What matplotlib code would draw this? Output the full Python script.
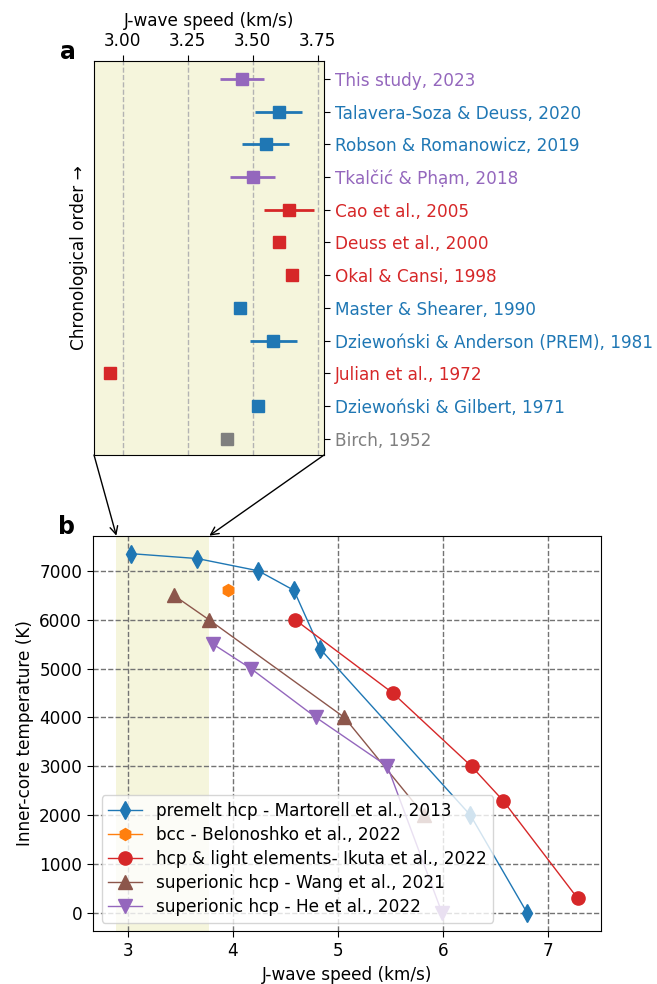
import matplotlib

matplotlib.use("Agg")
import matplotlib.pyplot as plt
from matplotlib.patches import ConnectionPatch

# --- panel a: published J-wave speed estimates (top row = most recent) ---
studies = [
    "This study, 2023",
    "Talavera-Soza & Deuss, 2020",
    "Robson & Romanowicz, 2019",
    "Tkalčić & Phạm, 2018",
    "Cao et al., 2005",
    "Deuss et al., 2000",
    "Okal & Cansi, 1998",
    "Master & Shearer, 1990",
    "Dziewoński & Anderson (PREM), 1981",
    "Julian et al., 1972",
    "Dziewoński & Gilbert, 1971",
    "Birch, 1952",
]
study_speed = [3.46, 3.60, 3.55, 3.50, 3.64, 3.60, 3.65, 3.45, 3.58, 2.95, 3.52, 3.40]
study_err = [0.085, 0.09, 0.09, 0.085, 0.095, 0, 0, 0, 0.09, 0, 0, 0]
study_group = ["purple", "blue", "blue", "purple", "red", "red", "red",
               "blue", "blue", "red", "blue", "gray"]
a_xticks = [3.00, 3.25, 3.50, 3.75]

# --- panel b: mineral physics predictions ---
mart_v = [3.03, 3.66, 4.24, 4.58, 4.83, 6.26, 6.80]
mart_t = [7350, 7250, 7000, 6600, 5400, 2000, 0]
belo_v = [3.95]
belo_t = [6600]
ikuta_v = [4.59, 5.52, 6.27, 6.57, 7.28]
ikuta_t = [6000, 4500, 3000, 2300, 300]
wang_v = [3.435, 3.77, 5.06, 5.82]
wang_t = [6500, 6000, 4000, 2000]
he_v = [3.81, 4.17, 4.79, 5.47, 5.99]
he_t = [5500, 5000, 4000, 3000, 0]

shade = (2.89, 3.775)

group_color = {"purple": "tab:purple", "blue": "tab:blue",
               "red": "tab:red", "gray": "tab:gray"}


def main() -> None:
    plt.rcParams.update({
        "font.size": 12.15,
        "xtick.major.size": 4, "ytick.major.size": 4,
        "xtick.major.pad": 4, "ytick.major.pad": 4,
    })
    fig = plt.figure(figsize=(6.57, 9.84), dpi=100)
    ax_a = fig.add_axes([0.1431, 0.5376, 0.3501, 0.4004])
    ax_b = fig.add_axes([0.142, 0.0539, 0.7723, 0.4017])

    # panel a
    n = len(studies)
    rows = [n - 1 - i for i in range(n)]
    for y, v, e, g in zip(rows, study_speed, study_err, study_group):
        c = group_color[g]
        ax_a.errorbar(v, y, xerr=e if e else None, fmt="s", color=c, ms=9,
                      elinewidth=2, capsize=0)
    ax_a.set_facecolor("beige")
    ax_a.set_xlim(*shade)
    ax_a.set_ylim(-0.5, n - 0.45)
    ax_a.xaxis.tick_top()
    ax_a.xaxis.set_label_position("top")
    ax_a.set_xticks(a_xticks)
    ax_a.set_xticklabels([f"{t:.2f}" for t in a_xticks])
    ax_a.set_xlabel("J-wave speed (km/s)")
    ax_a.yaxis.tick_right()
    ax_a.set_yticks(rows)
    ax_a.set_yticklabels(studies)
    for lab, g in zip(ax_a.get_yticklabels(), study_group):
        lab.set_color(group_color[g])
    ax_a.set_ylabel("Chronological order →")
    ax_a.grid(axis="x", ls="--", color="0.7", lw=1)
    ax_a.set_axisbelow(True)

    # panel b
    ax_b.axvspan(*shade, color="beige", lw=0, zorder=0)
    ax_b.plot(mart_v, mart_t, "-d", color="tab:blue", ms=9, lw=1,
              label="premelt hcp - Martorell et al., 2013")
    ax_b.plot(belo_v, belo_t, "-h", color="tab:orange", ms=8.6, lw=1,
              label="bcc - Belonoshko et al., 2022")
    ax_b.plot(ikuta_v, ikuta_t, "-o", color="tab:red", ms=9.5, lw=1,
              label="hcp & light elements- Ikuta et al., 2022")
    ax_b.plot(wang_v, wang_t, "-^", color="tab:brown", ms=9.5, lw=1,
              label="superionic hcp - Wang et al., 2021")
    ax_b.plot(he_v, he_t, "-v", color="tab:purple", ms=9.5, lw=1,
              label="superionic hcp - He et al., 2022")
    ax_b.set_xticks([3, 4, 5, 6, 7])
    ax_b.set_yticks(range(0, 8000, 1000))
    ax_b.grid(ls="--", color="0.45", lw=1)
    ax_b.set_xlabel("J-wave speed (km/s)")
    ax_b.set_ylabel("Inner-core temperature (K)")
    ax_b.legend(loc="lower left", labelspacing=0.35)

    # zoom arrows from panel a corners to the shaded band in b
    for x in shade:
        con = ConnectionPatch(
            xyA=(x, 0), coordsA=ax_a.get_xaxis_transform(),
            xyB=(x, 1), coordsB=ax_b.get_xaxis_transform(),
            arrowstyle="->", color="k", lw=1, mutation_scale=14,
        )
        fig.add_artist(con)

    fig.text(68 / 657, 1 - 52 / 984, "a", weight="bold", size=17,
             ha="center", va="center")
    fig.text(66 / 657, 1 - 527 / 984, "b", weight="bold", size=17,
             ha="center", va="center")

    fig.savefig("out.png", dpi=100)
    plt.close(fig)


if __name__ == "__main__":
    main()
